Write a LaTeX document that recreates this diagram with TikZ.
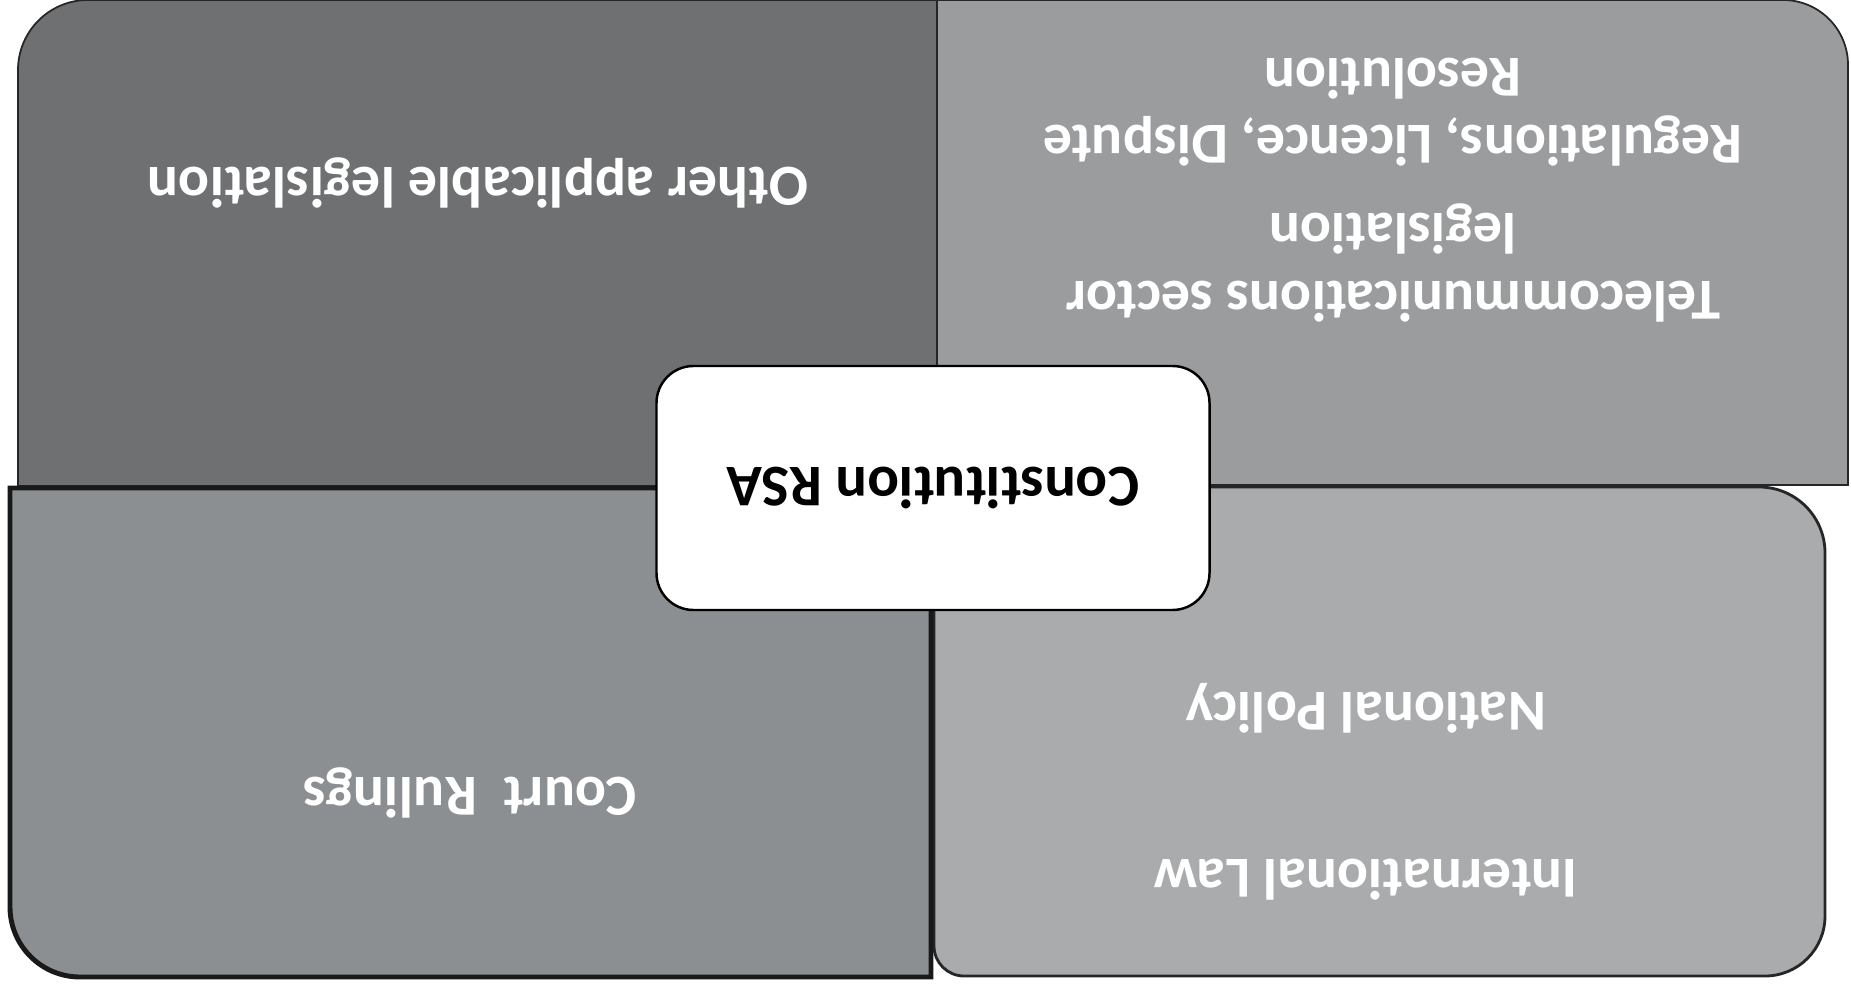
\documentclass[tikz,border=0pt]{standalone}
\usepackage{fontspec}
\setmainfont{Carlito}[RawFeature={-liga;-clig;-calt;-dlig}]
\usepackage{xcolor}
\usepackage{tikz}
\usetikzlibrary{positioning}
\definecolor{gOne}{RGB}{110,112,114}
\definecolor{gTwo}{RGB}{154,156,158}
\definecolor{gThree}{RGB}{140,143,146}
\definecolor{gFour}{RGB}{169,171,173}
\tikzset{
  panel/.style={draw=black!85, line width=0.5pt},
  heavypanel/.style={draw=black!90, line width=1.4pt},
  quadtext/.style={text=white, align=center, rotate=180, font=\fontsize{16.5}{19.3}\selectfont\bfseries},
  centrebox/.style={rectangle, rounded corners=3.7mm, draw=black, line width=0.7pt, fill=white, minimum width=55.3mm, minimum height=24.4mm, rotate=180, font=\fontsize{16.8}{20}\selectfont\bfseries}
}

\begin{document}
\begin{tikzpicture}
  \useasboundingbox (0,0) rectangle (18.51,-9.85);
  \fill[white] (0,0) rectangle (18.51,-9.85);
  \draw[panel, fill=gOne] (0.18,-4.86) -- (0.18,-0.70) arc[start angle=180, end angle=90, radius=0.70] -- (9.37,0) -- (9.37,-4.86) -- cycle;
  \draw[panel, fill=gTwo] (9.37,-4.85) -- (9.37,0) -- (17.83,0) arc[start angle=90, end angle=0, radius=0.65] -- (18.48,-4.85) -- cycle;
  \draw[panel, line width=0.8pt, fill=gFour] (9.34,-4.87) -- (17.59,-4.87) arc[start angle=90, end angle=0, radius=0.66] -- (18.25,-9.16) arc[start angle=0, end angle=-90, radius=0.60] -- (9.64,-9.76) arc[start angle=-90, end angle=-180, radius=0.30] -- cycle;
  \draw[heavypanel, fill=gThree] (0.10,-4.88) -- (9.31,-4.88) -- (9.31,-9.77) -- (0.80,-9.77) arc[start angle=-90, end angle=-180, radius=0.70] -- cycle;
  \node[quadtext] (other) at (4.78,-1.83) {Other applicable legislation};
  \node[quadtext] (telecom) at (13.93,-1.90) {Telecommunications sector\\legislation\\[2mm]Regulations, Licence, Dispute\\Resolution};
  \node[quadtext] (natpolicy) at (13.66,-7.08) {National Policy};
  \node[quadtext] (intlaw) at (13.66,-8.80) {International Law};
  \node[quadtext] (court) at (4.70,-7.93) {Court\ \ Rulings};
  \node[centrebox] (constitution) at (9.33,-4.88) {Constitution RSA};
\end{tikzpicture}
\end{document}
